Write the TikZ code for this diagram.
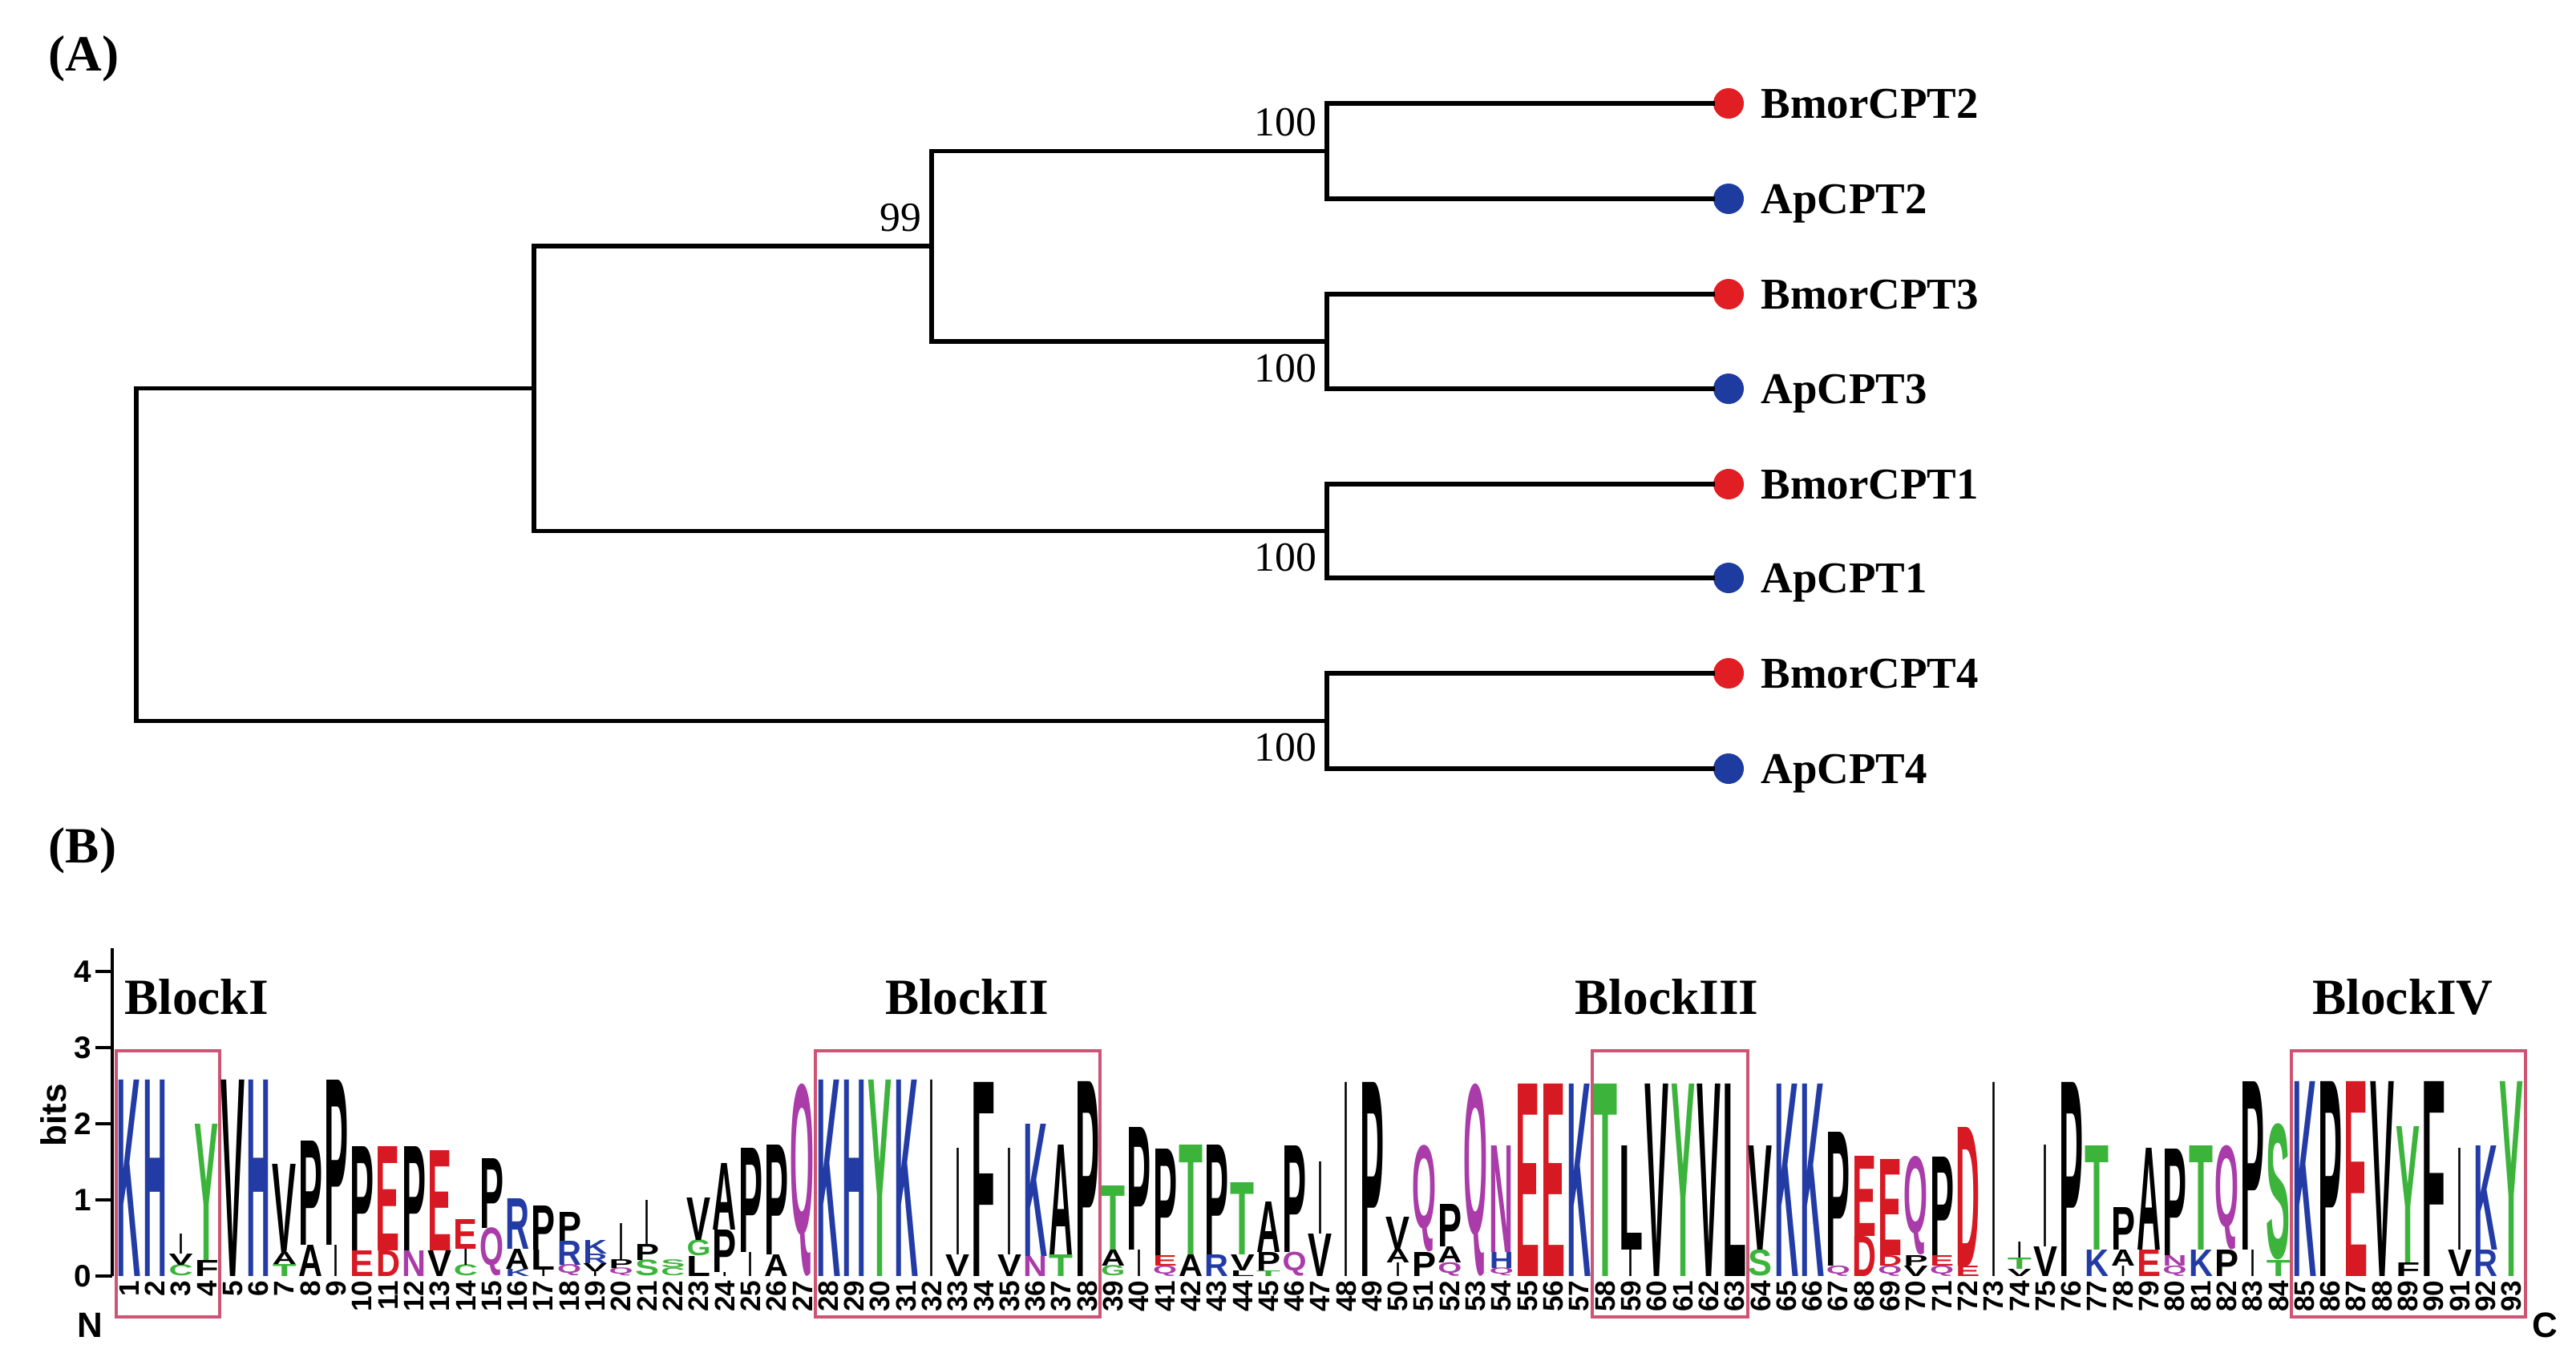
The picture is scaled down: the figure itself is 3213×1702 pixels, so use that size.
\documentclass[tikz,border=0pt]{standalone}
\usepackage{fontspec}
\setmainfont{Liberation Serif}
\setsansfont{Liberation Sans}
\usepackage{graphicx}
\usetikzlibrary{positioning}
\definecolor{basic}{RGB}{35,60,165}
\definecolor{acidic}{RGB}{215,25,35}
\definecolor{polar}{RGB}{60,180,60}
\definecolor{neutral}{RGB}{170,60,170}
\colorlet{hydro}{black}
\definecolor{bmor-dot}{RGB}{225,30,35}
\definecolor{ap-dot}{RGB}{30,60,160}
\definecolor{block-box}{RGB}{205,85,115}
\newcommand{\logocol}[2]{%
  \pgfmathsetmacro{\colx}{161+(#1-1)*32.3}%
  \gdef\colbase{0}%
  \foreach \h/\ltr/\clr [count=\i] in {#2}{%
    \pgfmathsetlengthmacro{\lh}{\h*0.01cm}%
    \def\lw{0.30cm}\if I\ltr\def\lw{0.05cm}\fi
    \node (ltr-#1-\i) [logoletter,text=\clr] at (\colx,{1592-\colbase}) {\resizebox*{\lw}{\lh}{\ltr}};%
    \pgfmathsetmacro{\nb}{\colbase+\h}%
    \global\let\colbase\nb
  }%
  \node (pos-#1) [posnum] at (\colx,1597) {#1};%
}
\begin{document}
\begin{tikzpicture}[
 x=0.01cm,y=-0.01cm,
 branch/.style={draw=black,line width=1.5pt,line cap=rect},
 bmor/.style={circle,fill=bmor-dot,minimum size=0.38cm,inner sep=0},
 ap/.style={circle,fill=ap-dot,minimum size=0.38cm,inner sep=0},
 leaf/.style={inner sep=0,text depth=0pt,font=\fontsize{15.6}{18}\selectfont\bfseries},
 boot/.style={inner sep=0,font=\fontsize{14.7}{16}\selectfont},
 panel/.style={inner sep=0,anchor=west,font=\fontsize{18}{20}\selectfont\bfseries},
 blocklabel/.style={inner sep=0,font=\fontsize{18}{20}\selectfont\bfseries},
 blockbox/.style={draw=block-box,line width=1.1pt},
 axis/.style={draw=black,line width=0.9pt},
 ticklabel/.style={inner sep=0,anchor=east,font=\sffamily\bfseries\fontsize{11}{12}\selectfont},
 axislabel/.style={inner sep=0,font=\sffamily\bfseries\fontsize{12.5}{14}\selectfont},
 logoletter/.style={inner sep=0,outer sep=0,anchor=south,font=\sffamily\bfseries},
 posnum/.style={inner sep=0,rotate=90,anchor=east,font=\sffamily\bfseries\fontsize{10}{10}\selectfont}
]
\useasboundingbox (0,0) rectangle (3213,1702);
\node (panel-a) [panel] at (60,73) {(A)};
\node (panel-b) [panel] at (60,1061) {(B)};
\coordinate (root) at (170,691.75);
\coordinate (cpt123-node) at (666,484.5);
\coordinate (cpt23-node) at (1162,307);
\coordinate (cpt2-node) at (1655,188.5);
\coordinate (cpt3-node) at (1655,426);
\coordinate (cpt1-node) at (1655,662.5);
\coordinate (cpt4-node) at (1655,899.5);
\node (bmor2) [bmor] at (2156,129) {};
\node (ap2) [ap] at (2156,248) {};
\node (bmor3) [bmor] at (2156,367) {};
\node (ap3) [ap] at (2156,485) {};
\node (bmor1) [bmor] at (2156,604) {};
\node (ap1) [ap] at (2156,721) {};
\node (bmor4) [bmor] at (2156,840) {};
\node (ap4) [ap] at (2156,959) {};
\draw[branch] (root) |- (cpt123-node);
\draw[branch] (root) |- (cpt4-node);
\draw[branch] (cpt123-node) |- (cpt23-node);
\draw[branch] (cpt123-node) |- (cpt1-node);
\draw[branch] (cpt23-node) |- (cpt2-node);
\draw[branch] (cpt23-node) |- (cpt3-node);
\draw[branch] (cpt2-node) |- (bmor2);
\draw[branch] (cpt2-node) |- (ap2);
\draw[branch] (cpt3-node) |- (bmor3);
\draw[branch] (cpt3-node) |- (ap3);
\draw[branch] (cpt1-node) |- (bmor1);
\draw[branch] (cpt1-node) |- (ap1);
\draw[branch] (cpt4-node) |- (bmor4);
\draw[branch] (cpt4-node) |- (ap4);
\node (bmor2-label) [leaf,right=0.2cm of bmor2] {BmorCPT2};
\node (ap2-label) [leaf,right=0.2cm of ap2] {ApCPT2};
\node (bmor3-label) [leaf,right=0.2cm of bmor3] {BmorCPT3};
\node (ap3-label) [leaf,right=0.2cm of ap3] {ApCPT3};
\node (bmor1-label) [leaf,right=0.2cm of bmor1] {BmorCPT1};
\node (ap1-label) [leaf,right=0.2cm of ap1] {ApCPT1};
\node (bmor4-label) [leaf,right=0.2cm of bmor4] {BmorCPT4};
\node (ap4-label) [leaf,right=0.2cm of ap4] {ApCPT4};
\node (boot-cpt23) [boot,above left=0.17cm and 0.12cm of cpt23-node] {99};
\node (boot-cpt2) [boot,above left=0.175cm and 0.12cm of cpt2-node] {100};
\node (boot-cpt3) [boot,below left=0.15cm and 0.12cm of cpt3-node] {100};
\node (boot-cpt1) [boot,below left=0.15cm and 0.12cm of cpt1-node] {100};
\node (boot-cpt4) [boot,below left=0.15cm and 0.12cm of cpt4-node] {100};
\draw[axis] (140,1183) -- (140,1592);
\foreach \b in {0,...,4} {
  \draw[axis] (119,{1592-95*\b}) -- (140,{1592-95*\b});
  \node (tick-\b) [ticklabel] at (115,{1592-95*\b}) {\b};
}
\node (bits) [axislabel,rotate=90] at (67,1391) {bits};
\node (n-term) [axislabel] at (112,1653) {N};
\node (c-term) [axislabel] at (3174,1653) {C};
\draw[blockbox] (145,1311) rectangle (274,1643);
\draw[blockbox] (1017,1311) rectangle (1372,1643);
\draw[blockbox] (1986,1311) rectangle (2180,1643);
\draw[blockbox] (2858,1311) rectangle (3150,1643);
\node (block1) [blocklabel] at (245,1244) {BlockI};
\node (block2) [blocklabel] at (1206,1244) {BlockII};
\node (block3) [blocklabel] at (2079,1244) {BlockIII};
\node (block4) [blocklabel] at (2997,1244) {BlockIV};
\logocol{1}{245/K/basic}
\logocol{2}{245/H/basic}
\logocol{3}{14/C/polar,14/V/hydro,25/I/hydro}
\logocol{4}{20/F/hydro,170/Y/polar}
\logocol{5}{245/V/hydro}
\logocol{6}{245/H/basic}
\logocol{7}{15/T/polar,15/A/hydro,110/V/hydro}
\logocol{8}{39/A/hydro,130/P/hydro}
\logocol{9}{39/I/hydro,206/P/hydro}
\logocol{10}{32/E/acidic,130/P/hydro}
\logocol{11}{32/D/acidic,130/E/acidic}
\logocol{12}{32/N/neutral,130/P/hydro}
\logocol{13}{32/V/hydro,125/E/acidic}
\logocol{14}{14/C/polar,20/I/hydro,37/E/acidic}
\logocol{15}{60/Q/neutral,87/P/hydro}
\logocol{16}{9/K/basic,25/A/hydro,63/R/basic}
\logocol{17}{8/I/hydro,25/L/hydro,55/P/hydro}
\logocol{18}{14/Q/neutral,30/R/basic,36/P/hydro}
\logocol{19}{6/I/hydro,10/V/hydro,12/R/basic,17/K/basic}
\logocol{20}{10/Q/neutral,11/P/hydro,45/I/hydro}
\logocol{21}{20/S/polar,20/P/hydro,55/I/hydro}
\logocol{22}{10/C/polar,10/S/polar}
\logocol{23}{25/L/hydro,20/G/polar,53/V/hydro}
\logocol{24}{5/I/hydro,53/P/hydro,83/A/hydro}
\logocol{25}{30/I/hydro,130/P/hydro}
\logocol{26}{27/A/hydro,137/P/hydro}
\logocol{27}{240/Q/neutral}
\logocol{28}{245/K/basic}
\logocol{29}{245/H/basic}
\logocol{30}{245/Y/polar}
\logocol{31}{245/K/basic}
\logocol{32}{245/I/hydro}
\logocol{33}{27/V/hydro,133/I/hydro}
\logocol{34}{242/F/hydro}
\logocol{35}{27/V/hydro,133/I/hydro}
\logocol{36}{25/N/neutral,165/K/basic}
\logocol{37}{27/T/polar,137/A/hydro}
\logocol{38}{243/P/hydro}
\logocol{39}{13/G/polar,20/A/hydro,80/T/polar}
\logocol{40}{33/I/hydro,153/P/hydro}
\logocol{41}{13/Q/neutral,13/E/acidic,133/P/hydro}
\logocol{42}{27/A/hydro,137/T/polar}
\logocol{43}{27/R/basic,137/P/hydro}
\logocol{44}{7/L/hydro,20/V/hydro,90/T/polar}
\logocol{45}{7/T/polar,23/P/hydro,63/A/hydro}
\logocol{46}{30/Q/neutral,133/P/hydro}
\logocol{47}{53/V/hydro,90/I/hydro}
\logocol{48}{242/I/hydro}
\logocol{49}{242/P/hydro}
\logocol{50}{17/I/hydro,17/A/hydro,40/V/hydro}
\logocol{51}{30/P/hydro,133/Q/neutral}
\logocol{52}{17/Q/neutral,20/A/hydro,53/P/hydro}
\logocol{53}{240/Q/neutral}
\logocol{54}{10/Q/neutral,20/H/basic,133/N/neutral}
\logocol{55}{240/E/acidic}
\logocol{56}{240/E/acidic}
\logocol{57}{240/K/basic}
\logocol{58}{240/T/polar}
\logocol{59}{33/I/hydro,130/L/hydro}
\logocol{60}{240/V/hydro}
\logocol{61}{240/Y/polar}
\logocol{62}{240/V/hydro}
\logocol{63}{240/L/hydro}
\logocol{64}{33/S/polar,130/V/hydro}
\logocol{65}{240/K/basic}
\logocol{66}{240/K/basic}
\logocol{67}{13/Q/neutral,167/P/hydro}
\logocol{68}{50/D/acidic,100/E/acidic}
\logocol{69}{13/Q/neutral,13/D/acidic,120/E/acidic}
\logocol{70}{13/V/hydro,13/P/hydro,123/Q/neutral}
\logocol{71}{13/Q/neutral,13/E/acidic,123/P/hydro}
\logocol{72}{13/E/acidic,173/D/acidic}
\logocol{73}{242/I/hydro}
\logocol{74}{9/V/hydro,14/T/polar,20/I/hydro}
\logocol{75}{37/V/hydro,127/I/hydro}
\logocol{76}{242/P/hydro}
\logocol{77}{33/K/basic,130/T/polar}
\logocol{78}{13/I/hydro,20/A/hydro,53/P/hydro}
\logocol{79}{33/E/acidic,127/A/hydro}
\logocol{80}{13/Q/neutral,13/N/neutral,133/P/hydro}
\logocol{81}{33/K/basic,130/T/polar}
\logocol{82}{33/P/hydro,130/Q/neutral}
\logocol{83}{33/I/hydro,210/P/hydro}
\logocol{84}{20/T/polar,170/S/polar}
\logocol{85}{243/K/basic}
\logocol{86}{243/P/hydro}
\logocol{87}{243/E/acidic}
\logocol{88}{243/V/hydro}
\logocol{89}{17/F/hydro,170/Y/polar}
\logocol{90}{243/F/hydro}
\logocol{91}{33/V/hydro,127/I/hydro}
\logocol{92}{33/R/basic,130/K/basic}
\logocol{93}{243/Y/polar}
\end{tikzpicture}
\end{document}
